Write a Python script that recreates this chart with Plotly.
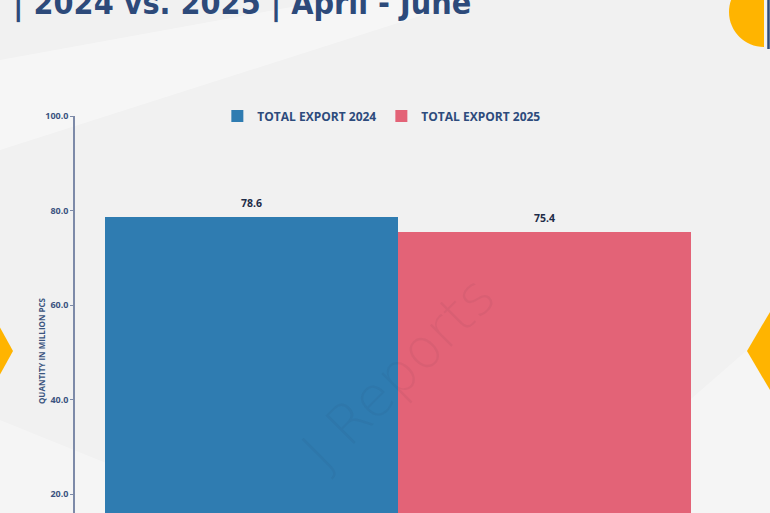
import plotly.graph_objects as go

# ---- data ----
categories = ["2024", "2025"]
series_names = ["TOTAL EXPORT 2024", "TOTAL EXPORT 2025"]
values = [78.6, 75.4]
colors = ["#2f7cb1", "#e36377"]
y_ticks = [20, 40, 60, 80, 100]
title_text = "| 2024 vs. 2025 | April - June"
axis_title = "QUANTITY IN MILLION PCS"

W, H = 770, 513
ML, MR, MT, MB = 75, 49, 116, 0
PW, PH = W - ML - MR, H - MT - MB


def px(x):
    return (x - ML) / PW


def py(y):
    return (H - MB - y) / PH


fig = go.Figure()
for i, (cat, name, val, col) in enumerate(zip(categories, series_names, values, colors)):
    fig.add_trace(go.Bar(
        x=[cat], y=[val], name=name, marker=dict(color=col, line=dict(width=0)),
        width=1.0, hoverinfo="y",
    ))
    fig.add_annotation(
        x=i, y=val, xref="x", yref="y", text=f"<b>{val:.1f}</b>", showarrow=False,
        yanchor="bottom", yshift=5, font=dict(family="Open Sans", size=10.5, color="#1e2c47"),
    )

# category unit in pixels = bar width 293 px
unit = 293.0
span = PW / unit
pad = (span - 2) / 2

fig.update_layout(
    width=W, height=H,
    margin=dict(l=ML, r=MR, t=MT, b=MB, pad=0),
    paper_bgcolor="#f1f1f1", plot_bgcolor="rgba(0,0,0,0)",
    barmode="overlay", bargap=0,
    showlegend=True,
    legend=dict(
        orientation="h", x=0.475, xanchor="center", y=1.0, yanchor="middle",
        font=dict(family="Open Sans", size=12, color="#2d4b7c", weight="bold"),
        bgcolor="rgba(0,0,0,0)", itemclick=False, itemdoubleclick=False,
    ),
    xaxis=dict(visible=False, range=[-0.5 - pad, 1.5 + pad], type="category"),
    yaxis=dict(
        range=[100 - PH / 4.725, 100], tickvals=y_ticks, tickformat=".1f",
        showline=True, linecolor="#7d8aa8", linewidth=1.5,
        ticks="outside", ticklen=3, tickcolor="#7d8aa8", tickwidth=1,
        showgrid=False, zeroline=False,
        tickfont=dict(family="Open Sans", size=9, color="#3c5380", weight="bold"),
    ),
)

# axis title
fig.add_annotation(
    x=px(41), y=py(351), xref="paper", yref="paper", text=f"<b>{axis_title}</b>",
    textangle=-90, showarrow=False, xanchor="center", yanchor="middle",
    font=dict(family="Open Sans", size=8, color="#3b5580"),
)

# cropped title
fig.add_annotation(
    x=px(11), y=py(16), xref="paper", yref="paper",
    text=f"<span style='font-stretch:condensed'><b>{title_text}</b></span>",
    showarrow=False, xanchor="left", yanchor="bottom", yshift=-9,
    font=dict(family="DejaVu Sans Condensed, DejaVu Sans", size=32, color="#2d4a7a"),
)

# watermark
fig.add_annotation(
    x=px(398), y=py(485), xref="paper", yref="paper", text="J Reports",
    textangle=-45, showarrow=False,
    font=dict(family="DejaVu Sans", size=55, color="rgba(30,30,50,0.05)", weight=200),
)

shapes = []
# faint diagonal light bands in the background
for pts, op in [
    ([(0, 150), (0, 60), (330, 0), (470, 0)], 0.4),
    ([(0, 513), (0, 420), (230, 513)], 0.3),
    ([(560, 513), (770, 330), (770, 513)], 0.3),
]:
    path = "M " + " L ".join(f"{px(a)},{py(b)}" for a, b in pts) + " Z"
    shapes.append(dict(type="path", path=path, xref="paper", yref="paper",
                       fillcolor="white", opacity=op, line=dict(width=0), layer="below"))

# yellow diamonds at the edges
for cx, hw, hh in [(-37, 50, 90), (797, 50, 85)]:
    pts = [(cx - hw, 351), (cx, 351 - hh), (cx + hw, 351), (cx, 351 + hh)]
    path = "M " + " L ".join(f"{px(a)},{py(b)}" for a, b in pts) + " Z"
    shapes.append(dict(type="path", path=path, xref="paper", yref="paper",
                       fillcolor="#ffb400", line=dict(width=0), layer="above"))

# top-right yellow half circle
cx, cy, r = 764, 12, 35
k = 0.5523 * r
p = [(cx, cy - r), (cx - k, cy - r), (cx - r, cy - k), (cx - r, cy),
     (cx - r, cy + k), (cx - k, cy + r), (cx, cy + r)]
pp = [f"{px(a)},{py(b)}" for a, b in p]
path = f"M {pp[0]} C {pp[1]} {pp[2]} {pp[3]} C {pp[4]} {pp[5]} {pp[6]} Z"
shapes.append(dict(type="path", path=path, xref="paper", yref="paper",
                   fillcolor="#ffb400", line=dict(width=0)))
# dark blue vertical line top-right
shapes.append(dict(type="line", x0=px(768.5), x1=px(768.5), y0=py(0), y1=py(49),
                   xref="paper", yref="paper", line=dict(color="#2d4a7a", width=2.5)))

fig.update_layout(shapes=shapes)
fig.write_html(
    "out.html",
    config={"displayModeBar": False},
    post_script="document.body.style.margin='0';document.body.style.padding='0';"
                "document.body.style.overflow='hidden';",
)
